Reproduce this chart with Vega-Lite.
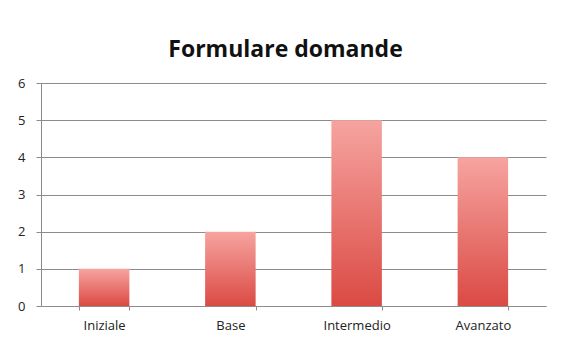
{
  "$schema": "https://vega.github.io/schema/vega-lite/v6.json",
  "autosize": "none",
  "width": 505,
  "height": 223,
  "padding": {"left": 41, "top": 83, "right": 16, "bottom": 34},
  "background": "#ffffff",
  "title": {
    "text": "Formulare domande",
    "font": "Open Sans",
    "fontSize": 23,
    "fontWeight": "bold",
    "color": "#111111",
    "anchor": "middle",
    "baseline": "alphabetic",
    "dx": -8,
    "offset": -3
  },
  "data": {
    "values": [
      {"livello": "Iniziale", "domande": 1},
      {"livello": "Base", "domande": 2},
      {"livello": "Intermedio", "domande": 5},
      {"livello": "Avanzato", "domande": 4}
    ]
  },
  "mark": {
    "type": "bar",
    "color": {
      "gradient": "linear",
      "x1": 0, "y1": 0, "x2": 0, "y2": 1,
      "stops": [
        {"offset": 0, "color": "#f6a4a0"},
        {"offset": 1, "color": "#db4a44"}
      ]
    }
  },
  "encoding": {
    "x": {
      "field": "livello",
      "type": "nominal",
      "sort": null,
      "title": null,
      "scale": {"paddingInner": 0.6, "paddingOuter": 0.3},
      "axis": {
        "labelAngle": 0,
        "tickBand": "extent",
        "tickSize": 4,
        "labelPadding": 9,
        "domainColor": "#8c8c8c",
        "tickColor": "#8c8c8c",
        "labelFont": "Open Sans",
        "labelFontSize": 13,
        "labelColor": "#222222"
      }
    },
    "y": {
      "field": "domande",
      "type": "quantitative",
      "title": null,
      "scale": {"domain": [0, 6], "nice": false},
      "axis": {
        "values": [0, 1, 2, 3, 4, 5, 6],
        "tickSize": 5,
        "labelPadding": 11,
        "grid": true,
        "gridColor": "#8c8c8c",
        "gridWidth": 1,
        "domainColor": "#8c8c8c",
        "tickColor": "#8c8c8c",
        "labelFont": "Open Sans",
        "labelFontSize": 13,
        "labelColor": "#222222"
      }
    }
  },
  "config": {"view": {"stroke": null}}
}
